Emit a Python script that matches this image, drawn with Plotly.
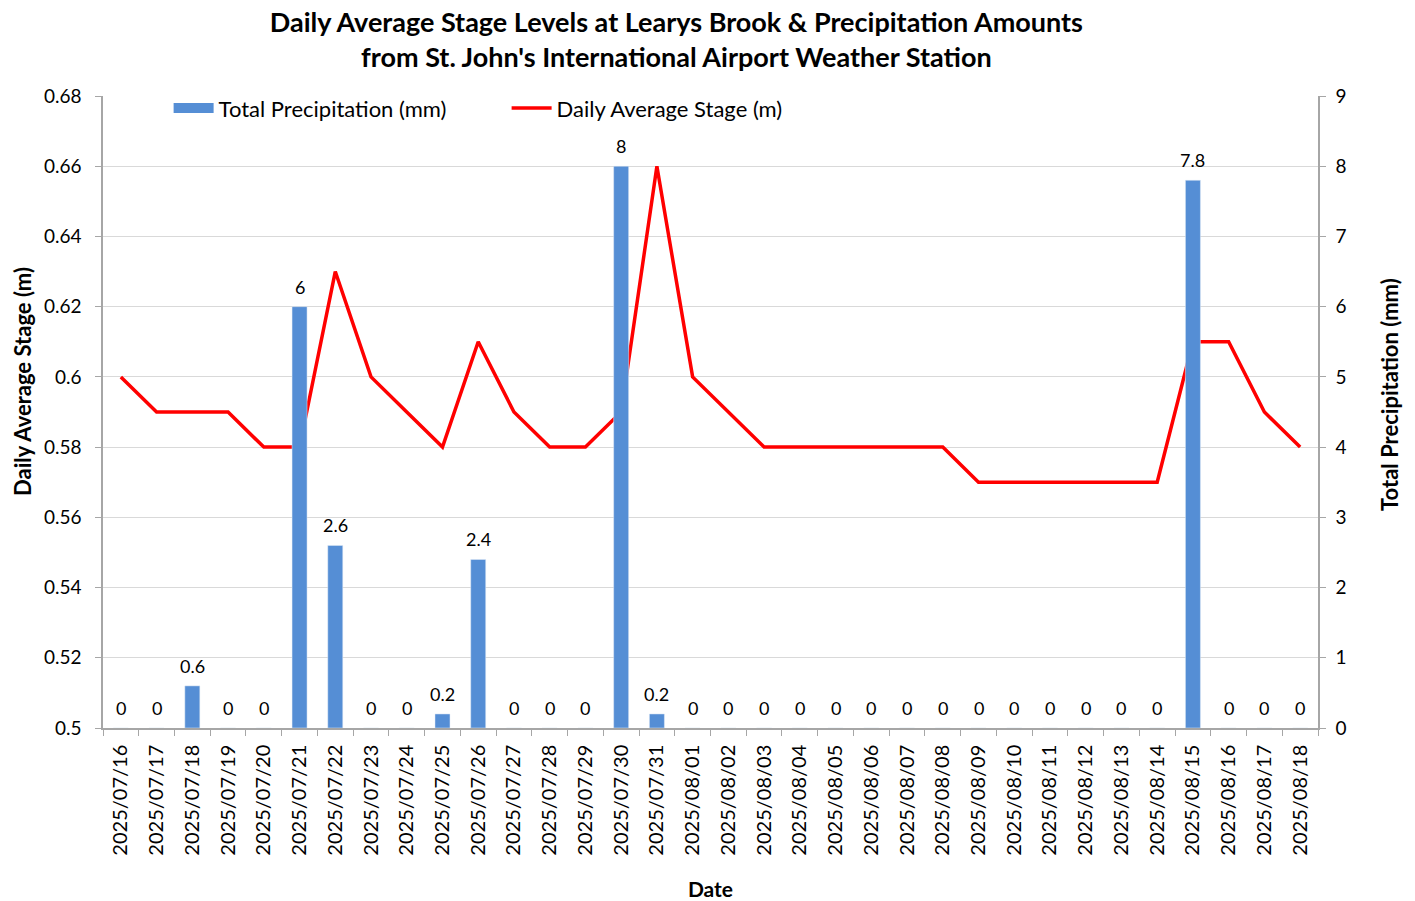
import plotly.graph_objects as go

dates = [
    "2025/07/16", "2025/07/17", "2025/07/18", "2025/07/19", "2025/07/20",
    "2025/07/21", "2025/07/22", "2025/07/23", "2025/07/24", "2025/07/25",
    "2025/07/26", "2025/07/27", "2025/07/28", "2025/07/29", "2025/07/30",
    "2025/07/31", "2025/08/01", "2025/08/02", "2025/08/03", "2025/08/04",
    "2025/08/05", "2025/08/06", "2025/08/07", "2025/08/08", "2025/08/09",
    "2025/08/10", "2025/08/11", "2025/08/12", "2025/08/13", "2025/08/14",
    "2025/08/15", "2025/08/16", "2025/08/17", "2025/08/18",
]
precip_mm = [
    0, 0, 0.6, 0, 0, 6, 2.6, 0, 0, 0.2, 2.4, 0, 0, 0, 8, 0.2, 0,
    0, 0, 0, 0, 0, 0, 0, 0, 0, 0, 0, 0, 0, 7.8, 0, 0, 0,
]
stage_m = [
    0.60, 0.59, 0.59, 0.59, 0.58, 0.58, 0.63, 0.60, 0.59, 0.58, 0.61, 0.59,
    0.58, 0.58, 0.59, 0.66, 0.60, 0.59, 0.58, 0.58, 0.58, 0.58, 0.58, 0.58,
    0.57, 0.57, 0.57, 0.57, 0.57, 0.57, 0.61, 0.61, 0.59, 0.58,
]

FONT = "Lato"
AXIS_GREY = "#A6A6A6"
BAR_BLUE = "#558ED5"

fig = go.Figure()

# precipitation bars on the secondary (right) axis
fig.add_trace(go.Bar(
    x=dates, y=precip_mm, name="Total Precipitation (mm)",
    marker_color=BAR_BLUE, yaxis="y2", showlegend=False,
))

# legend-only entry so the bar key is a wide block like the Excel one
fig.add_trace(go.Scatter(
    x=[None], y=[None], name="Total Precipitation (mm)",
    mode="lines", line=dict(color=BAR_BLUE, width=10), yaxis="y2",
))

# daily average stage line on the primary axis
fig.add_trace(go.Scatter(
    x=dates, y=stage_m, name="Daily Average Stage (m)",
    mode="lines", line=dict(color="#FF0000", width=3.5),
))

# data labels above every bar (including the zeros)
for d, v in zip(dates, precip_mm):
    fig.add_annotation(
        x=d, y=v, xref="x", yref="y2", text=f"{v:g}",
        showarrow=False, yanchor="middle", yshift=20,
        font=dict(size=18, color="black", family=FONT),
    )

# axis titles placed as in the original
fig.add_annotation(
    x=-0.0667, y=0.549, xref="paper", yref="paper", textangle=-90,
    text="<b>Daily Average Stage (m)</b>", showarrow=False,
    xanchor="center", yanchor="middle", font=dict(size=22, family=FONT),
)
fig.add_annotation(
    x=1.0593, y=0.527, xref="paper", yref="paper", textangle=-90,
    text="<b>Total Precipitation (mm)</b>", showarrow=False,
    xanchor="center", yanchor="middle", font=dict(size=22, family=FONT),
)

fig.update_layout(
    width=1415, height=901,
    paper_bgcolor="white", plot_bgcolor="white",
    font=dict(family=FONT, size=20, color="black"),
    title=dict(
        text="<b>Daily Average Stage Levels at Learys Brook &amp; Precipitation Amounts<br>"
             "from St. John's International Airport Weather Station</b>",
        x=0.478, xanchor="center", y=0.9644, yanchor="top",
        font=dict(size=27, family=FONT),
    ),
    margin=dict(l=103, r=97, t=96, b=173),
    bargap=0.58,
    showlegend=True,
    legend=dict(
        orientation="h", x=0.054, y=1.014, xanchor="left", yanchor="top",
        font=dict(size=22), bgcolor="rgba(0,0,0,0)",
        traceorder="normal", itemwidth=40,
        entrywidth=283, entrywidthmode="pixels",
    ),
    xaxis=dict(
        type="category", tickangle=-90, tickson="boundaries",
        ticks="outside", ticklen=6, tickcolor=AXIS_GREY,
        showline=True, linecolor=AXIS_GREY, linewidth=1.5,
        showgrid=False, tickfont=dict(size=20), automargin=False,
        ticklabelstandoff=7,
        title=dict(text="<b>Date</b>", font=dict(size=21), standoff=35),
    ),
    yaxis=dict(
        range=[0.5, 0.68], dtick=0.02, tickformat="~g",
        showgrid=True, gridcolor="#D9D9D9",
        showline=True, linecolor=AXIS_GREY, linewidth=1.5,
        ticks="outside", ticklen=6, tickcolor=AXIS_GREY,
        tickfont=dict(size=19), zeroline=False, automargin=False,
        ticklabelstandoff=10,
    ),
    yaxis2=dict(
        range=[0, 9], dtick=1, overlaying="y", side="right",
        showgrid=False, zeroline=False, automargin=False,
        showline=True, linecolor=AXIS_GREY, linewidth=1.5,
        ticks="outside", ticklen=6, tickcolor=AXIS_GREY,
        tickfont=dict(size=19), ticklabelstandoff=6,
    ),
)

# drop the browser's default body margin so the figure fills the window
fig.write_html(
    "out.html",
    config={"displayModeBar": False},
    post_script="document.body.style.margin = '0';",
)
